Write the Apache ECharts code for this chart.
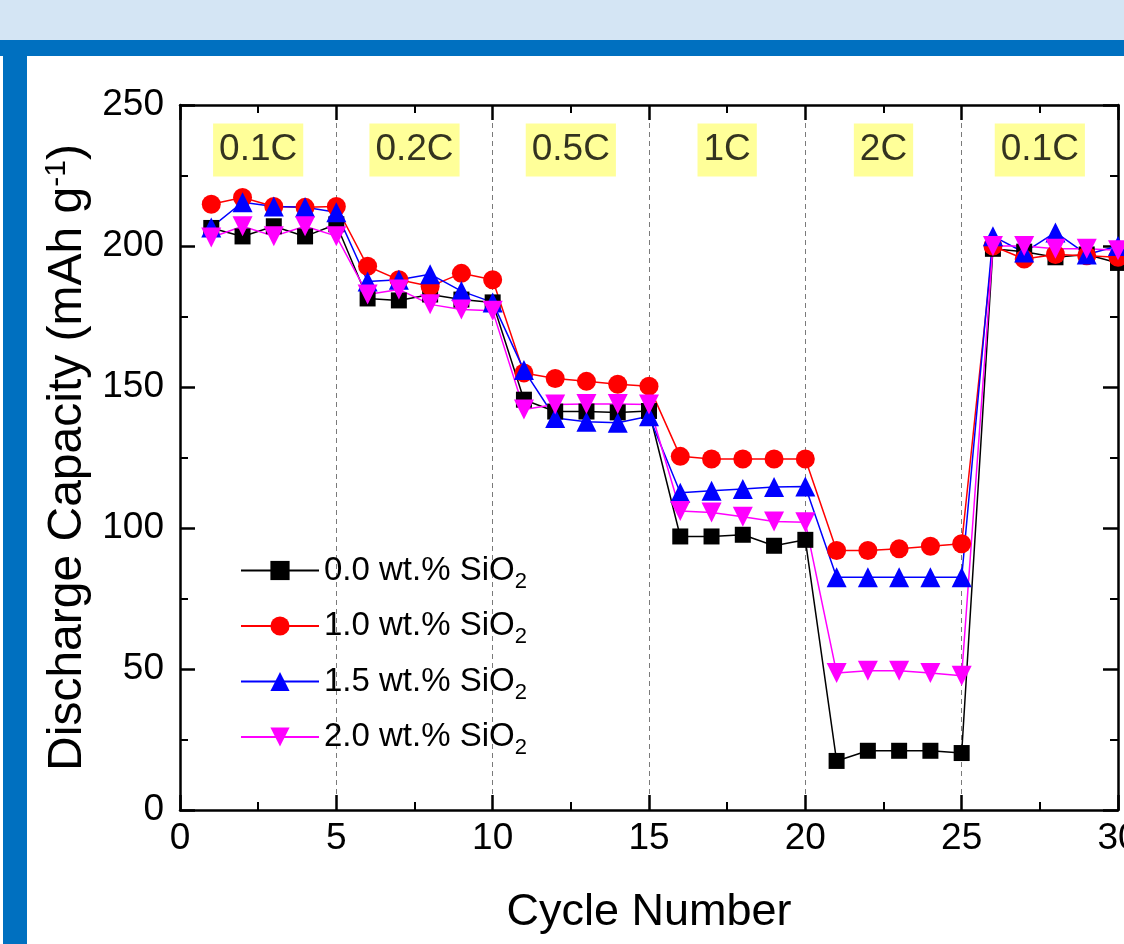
<!DOCTYPE html>
<html>
<head>
<meta charset="utf-8">
<script src="https://cdn.jsdelivr.net/npm/echarts@6/dist/echarts.min.js"></script>
<style>
html,body{margin:0;padding:0;background:#fff;}
#chart{width:1124px;height:944px;}
</style>
</head>
<body>
<div id="chart"></div>
<script>
const cycles = [1,2,3,4,5,6,7,8,9,10,11,12,13,14,15,16,17,18,19,20,21,22,23,24,25,26,27,28,29,30];
const s00 = [206.4,203.4,207,203.4,207.7,181.4,180.7,182.8,181,180,145.5,141.3,141.3,141,141.5,97,97,97.6,93.7,95.8,17.4,21,21,21,20.2,199,198,196,197,194];
const s10 = [214.8,217.2,214,213.7,214,192.8,188,185.7,190.3,188,155,153,152,151,150.3,125.4,124.5,124.5,124.5,124.5,92,92,92.6,93.5,94.4,200,195.4,197,196.5,196];
const s15 = [206.6,215.5,214,213.7,212,187.4,188,190,184,180,156,139,137.7,137.3,139.6,112.5,113.2,113.8,114.5,114.7,82.5,82.5,82.5,82.5,82.5,203.5,197.7,204.8,197,200];
const s20 = [203,207,203.5,207,203.5,182.8,184.6,179.3,177.5,177,142,143.8,144,144,143.8,106,105.5,104,102.3,102,48.6,49.4,49.4,48.6,47.6,200,200,199,199,198.5];
const seriesNames = ['0.0 wt.% SiO2','1.0 wt.% SiO2','1.5 wt.% SiO2','2.0 wt.% SiO2'];
const rateLabels = ['0.1C','0.2C','0.5C','1C','2C','0.1C'];
const rateX = [2.5,7.5,12.5,17.5,22.5,27.5];
const rateY = 234;

const FONT = "'Liberation Sans', Arial, sans-serif";
const chart = echarts.init(document.getElementById('chart'), null, {renderer:'canvas'});

function mk(name, data, color, symbol, size, rot){
  return {
    name: name, type: 'line', data: cycles.map((c,i)=>[c, data[i]]),
    symbol: symbol, symbolSize: size, symbolRotate: rot || 0,
    itemStyle: {color: color}, lineStyle: {color: color, width: 1.5},
    z: 3, clip: false
  };
}

const axisCommon = {
  axisLine: {show: true, onZero: false, lineStyle: {color: '#000', width: 2.5}},
  axisTick: {show: true, inside: true, length: 15, lineStyle: {color: '#000', width: 2.5}},
  minorTick: {show: true, splitNumber: 2, length: 8, lineStyle: {color: '#000', width: 2}},
  minorSplitLine: {show: false}
};

const option = {
  backgroundColor: '#ffffff',
  animation: false,
  graphic: [
    {type: 'rect', shape: {x: 0, y: 0, width: 1124, height: 40}, style: {fill: '#d4e5f4'}, z: -10},
    {type: 'rect', shape: {x: 0, y: 40, width: 1124, height: 16}, style: {fill: '#0070c0'}, z: -10},
    {type: 'rect', shape: {x: 3, y: 56, width: 24, height: 888}, style: {fill: '#0070c0'}, z: -10}
  ],
  grid: {left: 180, right: 6, top: 105, bottom: 134, containLabel: false, outerBoundsMode: 'none'},
  legend: {
    data: seriesNames, orient: 'vertical', left: 235, top: 549,
    itemWidth: 78, itemHeight: 24, itemGap: 17,
    textStyle: {
      fontFamily: FONT, color: '#000',
      rich: {
        t: {fontFamily: FONT, fontSize: 33, lineHeight: 44, color: '#000'},
        s: {fontFamily: FONT, fontSize: 22, lineHeight: 22, verticalAlign: 'bottom', color: '#000'}
      }
    },
    formatter: function(n){ return '{t|' + n.slice(0, -1) + '}{s|2}'; }
  },
  xAxis: [
    Object.assign({
      type: 'value', min: 0, max: 30, interval: 5, position: 'bottom',
      axisLabel: {show: true, fontSize: 37, color: '#000', fontFamily: FONT, margin: 10},
      splitLine: {show: true, lineStyle: {type: [5, 4], color: '#7a7a7a', width: 1}},
      name: 'Cycle Number', nameLocation: 'middle', nameGap: 80,
      nameTextStyle: {fontSize: 45, fontFamily: FONT, color: '#000'}
    }, axisCommon),
    Object.assign({
      type: 'value', min: 0, max: 30, interval: 5, position: 'top',
      axisLabel: {show: false}, splitLine: {show: false}
    }, axisCommon)
  ],
  yAxis: [
    Object.assign({
      type: 'value', min: 0, max: 250, interval: 50, position: 'left',
      axisLabel: {show: true, fontSize: 37, color: '#000', fontFamily: FONT, margin: 16},
      splitLine: {show: false},
      name: '{a|Discharge Capacity (mAh g}{p|-1}{a|)}', nameLocation: 'middle', nameGap: 86,
      nameTextStyle: {
        fontFamily: FONT, color: '#000',
        rich: {
          a: {fontSize: 48, fontFamily: FONT, color: '#000', lineHeight: 52},
          p: {fontSize: 30, fontFamily: FONT, color: '#000', verticalAlign: 'top', lineHeight: 30}
        }
      }
    }, axisCommon),
    Object.assign({
      type: 'value', min: 0, max: 250, interval: 50, position: 'right',
      axisLabel: {show: false}, splitLine: {show: false}
    }, axisCommon)
  ],
  series: [
    mk(seriesNames[0], s00, '#000000', 'rect', 16),
    mk(seriesNames[1], s10, '#ff0000', 'circle', 19),
    mk(seriesNames[2], s15, '#0000ff', 'triangle', 20),
    mk(seriesNames[3], s20, '#ff00ff', 'triangle', 20, 180),
    {
      type: 'scatter', name: 'rates', symbolSize: 0, silent: true, z: 5,
      data: rateX.map((x,i)=>({value: [x, rateY], name: rateLabels[i]})),
      label: {
        show: true, position: 'inside', formatter: '{b}',
        fontFamily: FONT, fontSize: 37, color: '#000', lineHeight: 43,
        backgroundColor: '#ffff80', padding: [5, 6, 5, 6]
      }
    }
  ]
};
chart.setOption(option);
</script>
</body>
</html>
